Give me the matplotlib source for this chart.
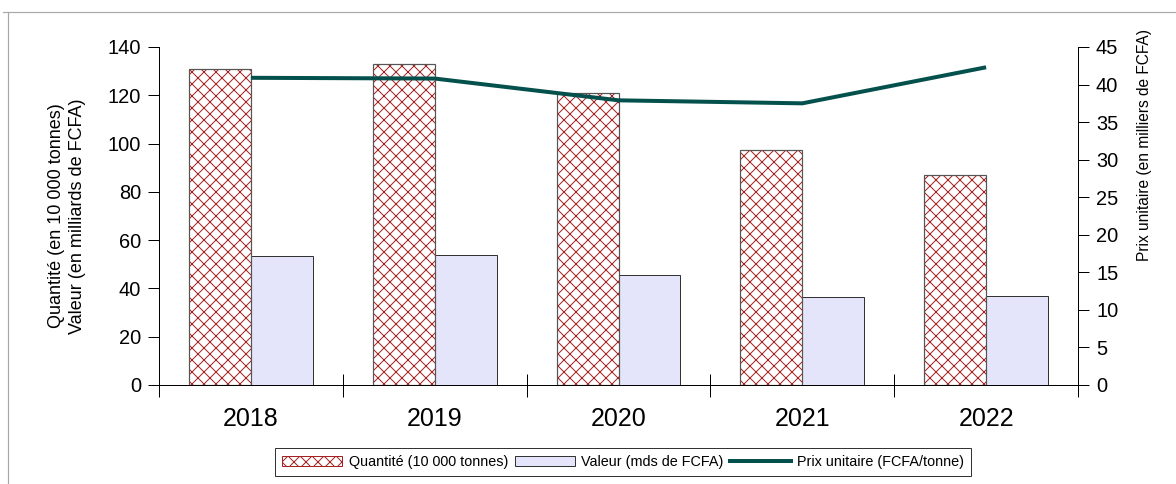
import matplotlib
matplotlib.use("Agg")
import matplotlib.pyplot as plt
import matplotlib.patches as mpatches
from matplotlib.lines import Line2D
import numpy as np

plt.rcParams['font.family'] = ['Liberation Sans', 'DejaVu Sans']
plt.rcParams['hatch.linewidth'] = 1.0

years = ["2018", "2019", "2020", "2021", "2022"]
quantite = [130.9, 133.0, 121.0, 97.3, 87.0]
valeur = [53.4, 53.9, 45.6, 36.5, 36.9]
prix = [40.9, 40.8, 37.9, 37.5, 42.3]

left_label = "Quantité (en 10 000 tonnes)\nValeur (en milliards de FCFA)"
right_label = "Prix unitaire (en milliers de FCFA)"
legend_labels = ["Quantité (10 000 tonnes)", "Valeur (mds de FCFA)", "Prix unitaire (FCFA/tonne)"]

DPI = 72
W, H = 1176, 484
fig = plt.figure(figsize=(W / DPI, H / DPI), dpi=DPI)
ax = fig.add_axes([159 / W, 1 - 385 / H, (1078 - 159) / W, (385 - 47) / H])
ax2 = ax.twinx()

x = np.arange(len(years))
bw = 0.337
hatch_col = '#a52222'
edge_col = '#555555'
val_col = '#e4e4fa'
line_col = '#04504c'

ax.bar(x - bw / 2, quantite, bw, facecolor='white', edgecolor=hatch_col, linewidth=0, hatch='xx', zorder=2)
ax.bar(x - bw / 2, quantite, bw, fill=False, edgecolor=edge_col, linewidth=1.2, zorder=3)
ax.bar(x + bw / 2, valeur, bw, facecolor=val_col, edgecolor='#333333', linewidth=1.0, zorder=2)

ax2.plot(x, prix, color=line_col, linewidth=4, solid_capstyle='butt', zorder=4)

ax.set_xlim(-0.5, len(years) - 0.5)
ax.set_ylim(0, 140)
ax2.set_ylim(0, 45)
ax.set_yticks(np.arange(0, 141, 20))
ax2.set_yticks(np.arange(0, 46, 5))

ax.set_xticks(x)
ax.set_xticklabels(years, fontsize=25)
ax.tick_params(axis='x', which='major', length=0, pad=22)
ax.set_xticks(np.arange(-0.5, len(years), 1.0), minor=True)
ax.tick_params(axis='x', which='minor', direction='inout', length=23, width=1)

ax.tick_params(axis='y', length=11, width=1, labelsize=20, pad=7, direction='out')
ax2.tick_params(axis='y', length=11, width=1, labelsize=20, pad=7, direction='out')

for a in (ax, ax2):
    a.spines['top'].set_visible(False)
    for s in a.spines.values():
        s.set_linewidth(1.0)
ax.spines['right'].set_visible(False)
ax2.spines['left'].set_visible(False)
ax2.spines['bottom'].set_visible(False)

fig.text(67 / W, 1 - 216 / H, left_label, rotation=90, ha='center', va='center',
         fontsize=18, linespacing=1.3, multialignment='center')
fig.text(1145 / W, 1 - 145 / H, right_label, rotation=90, ha='center', va='center', fontsize=15.5)

ax2.set_zorder(ax.get_zorder() + 1)
ax2.patch.set_visible(False)

handles = [
    mpatches.Patch(facecolor='white', edgecolor=hatch_col, hatch='xx', linewidth=1.0),
    mpatches.Patch(facecolor=val_col, edgecolor='#333333', linewidth=1.0),
    Line2D([], [], color=line_col, linewidth=4),
]
leg = fig.legend(handles, legend_labels, loc='center', bbox_to_anchor=(623 / W, 1 - 462 / H),
                 ncol=3, fontsize=14.4, frameon=True, fancybox=False, handlelength=4.2,
                 handleheight=0.7, handletextpad=0.45, columnspacing=0.45, borderpad=0.5,
                 borderaxespad=0)
leg.get_frame().set_edgecolor('black')
leg.get_frame().set_linewidth(1.0)

# figure frame (left and top edges)
fig.add_artist(Line2D([8 / W, 8 / W], [0, 1 - 12 / H], transform=fig.transFigure, color='#a8a8a8', linewidth=1.2))
fig.add_artist(Line2D([3 / W, 1], [1 - 12 / H, 1 - 12 / H], transform=fig.transFigure, color='#a8a8a8', linewidth=1.2))

fig.savefig("out.png", dpi=DPI)
